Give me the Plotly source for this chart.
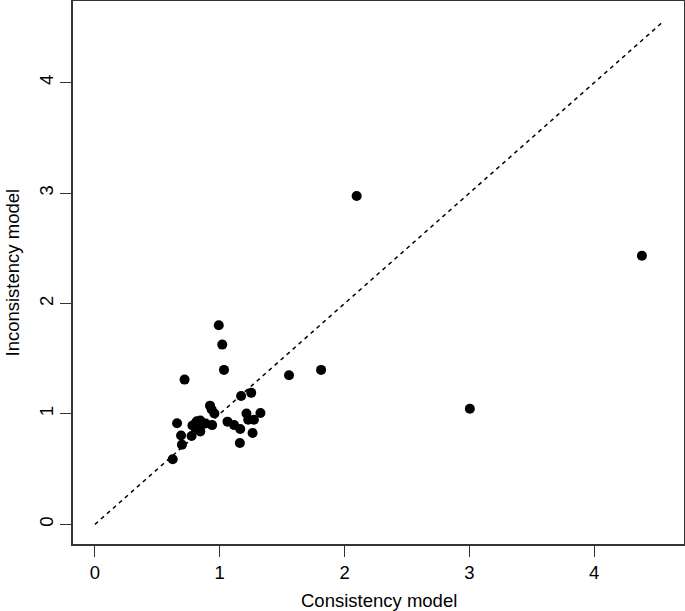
import plotly.graph_objects as go

consistency = [2.097, 4.383, 3.004, 0.992, 1.020, 1.034, 0.718, 1.555, 1.812, 1.171,
               1.252, 0.922, 0.935, 0.957, 1.214, 1.326, 1.274, 1.228, 1.062, 1.115,
               1.164, 1.263, 1.161, 0.939, 0.658, 0.690, 0.697, 0.774, 0.623, 0.799,
               0.816, 0.844, 0.858, 0.887, 0.834, 0.844, 0.806, 0.781]
inconsistency = [2.974, 2.432, 1.047, 1.804, 1.628, 1.399, 1.311, 1.350, 1.399, 1.163,
                 1.191, 1.075, 1.040, 1.004, 1.004, 1.008, 0.948, 0.948, 0.930, 0.899,
                 0.863, 0.828, 0.737, 0.899, 0.916, 0.804, 0.722, 0.800, 0.589, 0.906,
                 0.934, 0.941, 0.906, 0.913, 0.870, 0.842, 0.870, 0.895]
identity_line = [0, 4.56]
tick_vals = [0, 1, 2, 3, 4]
x_title = "Consistency model"
y_title = "Inconsistency model"

FONT = "Liberation Sans, Arial, Helvetica, sans-serif"

fig = go.Figure()
fig.add_trace(go.Scatter(x=identity_line, y=identity_line, mode="lines",
                         line=dict(color="black", width=1.5, dash="4px,4px"),
                         hoverinfo="skip", showlegend=False))
fig.add_trace(go.Scatter(x=consistency, y=inconsistency, mode="markers",
                         marker=dict(color="black", size=10, line=dict(width=0)),
                         showlegend=False))

axis_common = dict(showgrid=False, zeroline=False, showline=True, linecolor="#333",
                   linewidth=1.5, mirror=True, ticks="outside", ticklen=11,
                   tickwidth=1.2, tickcolor="#333", tickvals=tick_vals,
                   automargin=False,
                   tickfont=dict(family=FONT, size=18.5, color="black"))

fig.update_xaxes(range=[-0.176, 4.72], **axis_common)
fig.update_yaxes(range=[-0.178, 4.74], tickangle=-90, **axis_common)

fig.add_annotation(text=x_title, xref="paper", yref="paper", x=0.5, y=0,
                   xanchor="center", yanchor="middle", yshift=-56, showarrow=False,
                   font=dict(family=FONT, size=18.5, color="black"))
fig.add_annotation(text=y_title, xref="paper", yref="paper", x=0, y=0.5,
                   xanchor="center", yanchor="middle", xshift=-61, textangle=-90,
                   showarrow=False,
                   font=dict(family=FONT, size=18.5, color="black"))

fig.update_layout(width=685, height=611, margin=dict(l=73, r=1, t=1, b=67),
                  plot_bgcolor="white", paper_bgcolor="white")

fig.write_html("out.html", config={"displayModeBar": False},
               post_script="document.body.style.margin='0';document.body.style.overflow='hidden';")
